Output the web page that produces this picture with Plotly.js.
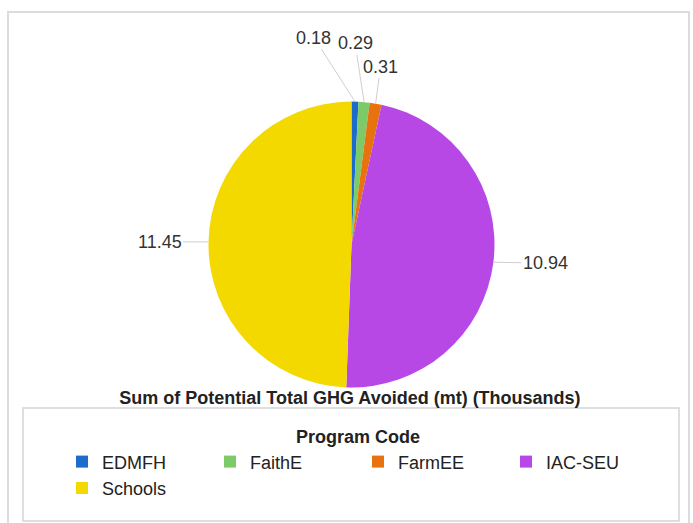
<!DOCTYPE html>
<html>
<head>
<meta charset="utf-8">
<script src="https://cdn.plot.ly/plotly-3.0.1.min.js"></script>
<style>html,body{margin:0;padding:0;background:#fff}#chart{width:693px;height:523px}</style>
</head>
<body>
<div id="chart"></div>
<script>
// ---- data ----
var programs = ["EDMFH", "FaithE", "FarmEE", "IAC-SEU", "Schools"];
var ghgAvoided = [0.18, 0.29, 0.31, 10.94, 11.45];
var sliceColors = ["#1d6cc9", "#7ccb68", "#e8720e", "#b848e6", "#f3d900"];
var valueLabels = ["0.18", "0.29", "0.31", "10.94", "11.45"];

// ---- label styling (offsets of value labels from slice edge, px) ----
var labelOffsetX = [-41, -9, 5, 52, -49];
var labelOffsetY = [-64, -59, -37, 1, 0];

var W = 693, H = 523;
var pieLeft = 208.5, pieRight = 494.5, pieTop = 101.5, pieBottom = 387.5;
var cx = (pieLeft + pieRight) / 2, cy = (pieTop + pieBottom) / 2, r = (pieRight - pieLeft) / 2;

var total = ghgAvoided.reduce(function (a, b) { return a + b; }, 0);
var annotations = [];
var cum = 0;
for (var i = 0; i < ghgAvoided.length; i++) {
  var mid = (cum + ghgAvoided[i] / 2) / total * 2 * Math.PI;
  cum += ghgAvoided[i];
  var px = cx + r * Math.sin(mid);
  var py = cy - r * Math.cos(mid);
  annotations.push({
    xref: "paper", yref: "paper",
    x: px / W, y: 1 - py / H,
    text: valueLabels[i],
    showarrow: true, arrowhead: 0, arrowwidth: 1, arrowcolor: "#cfcfcf",
    standoff: 0, ax: labelOffsetX[i], ay: labelOffsetY[i],
    font: {family: "Liberation Sans, Arial, sans-serif", size: 18, color: "#333"}
  });
}

var trace = {
  type: "pie",
  labels: programs,
  values: ghgAvoided,
  sort: false,
  direction: "clockwise",
  rotation: 0,
  textinfo: "none",
  hoverinfo: "label+value",
  marker: {colors: sliceColors, line: {width: 0}},
  domain: {x: [pieLeft / W, pieRight / W], y: [1 - pieBottom / H, 1 - pieTop / H]}
};

var layout = {
  width: W, height: H,
  margin: {l: 0, r: 0, t: 0, b: 0},
  paper_bgcolor: "#ffffff",
  font: {family: "Liberation Sans, Arial, sans-serif", color: "#333"},
  title: {
    text: "<b>Sum of Potential Total GHG Avoided (mt) (Thousands)</b>",
    font: {size: 18, color: "#222"},
    x: 0.505, xanchor: "center", xref: "paper",
    y: 1 - 398 / H, yanchor: "middle", yref: "container"
  },
  showlegend: true,
  legend: {
    orientation: "h",
    x: 62 / W, xanchor: "left",
    y: 1 - 420 / H, yanchor: "top",
    entrywidth: 103, entrywidthmode: "pixels",
    font: {size: 18, color: "#222"},
    title: {text: "<b>Program Code</b>", side: "top center", font: {size: 18, color: "#222"}},
    bgcolor: "rgba(0,0,0,0)",
    borderwidth: 0,
    traceorder: "normal"
  },
  shapes: [
    {type: "rect", xref: "paper", yref: "paper", x0: 8 / W, x1: 689 / W, y0: -0.05, y1: 1 - 12 / H,
     line: {color: "#dcdcdc", width: 2}, fillcolor: "rgba(0,0,0,0)", layer: "below"},
    {type: "rect", xref: "paper", yref: "paper", x0: 23 / W, x1: 679 / W, y0: 1 - 521 / H, y1: 1 - 408 / H,
     line: {color: "#d4d4d4", width: 1.5}, fillcolor: "rgba(0,0,0,0)", layer: "below"}
  ],
  annotations: annotations
};

Plotly.newPlot("chart", [trace], layout, {displayModeBar: false, staticPlot: true});
</script>
</body>
</html>
